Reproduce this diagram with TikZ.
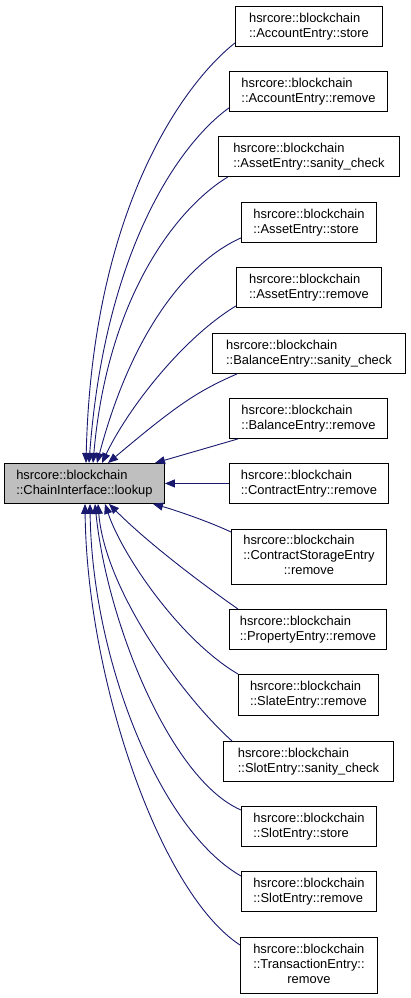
\documentclass[tikz,border=0pt]{standalone}
\usepackage{fontspec}
\setmainfont{Liberation Sans}
\usetikzlibrary{arrows.meta}
\definecolor{edgeblue}{HTML}{191970}
\definecolor{maingray}{HTML}{BFBFBF}
\begin{document}
\begin{tikzpicture}[x=1pt,y=-1pt,
  box/.style={draw=black, line width=0.9pt, fill=white, rectangle, inner sep=0pt, anchor=north west,
    align=left, font=\fontsize{12.9}{15}\selectfont, minimum height=40pt},
  mainbox/.style={box, fill=maingray},
  edge/.style={draw=edgeblue, line width=0.9pt, -{Triangle[length=10pt,width=8pt]}}]
\useasboundingbox[fill=white] (0,0) rectangle (411,998);

\node[mainbox, minimum width=160pt] (main) at (4,463) {hsrcore::blockchain\\::ChainInterface::lookup};

\node[box, minimum width=147pt] (acs) at (235,6) {hsrcore::blockchain\\::AccountEntry::store};
\node[box, minimum width=158pt] (acr) at (229,71) {hsrcore::blockchain\\::AccountEntry::remove};
\node[box, minimum width=181pt] (asc) at (218,136) {hsrcore::blockchain\\::AssetEntry::sanity\_check};
\node[box, minimum width=135pt] (ast) at (241,202) {hsrcore::blockchain\\::AssetEntry::store};
\node[box, minimum width=145pt] (asr) at (236,267) {hsrcore::blockchain\\::AssetEntry::remove};
\node[box, minimum width=193pt] (bsc) at (212,333) {hsrcore::blockchain\\::BalanceEntry::sanity\_check};
\node[box, minimum width=158pt] (bar) at (229,398) {hsrcore::blockchain\\::BalanceEntry::remove};
\node[box, minimum width=159pt] (cer) at (229,463) {hsrcore::blockchain\\::ContractEntry::remove};
\node[box, minimum width=155pt, minimum height=55pt] (csr) at (231,529)
  {\begin{tabular}{@{}l@{}}hsrcore::blockchain\\::ContractStorageEntry\\\multicolumn{1}{@{}c@{}}{::remove}\end{tabular}};
\node[box, minimum width=157pt] (per) at (229,609) {hsrcore::blockchain\\::PropertyEntry::remove};
\node[box, minimum width=140pt, minimum height=41pt] (ser) at (238,674) {hsrcore::blockchain\\::SlateEntry::remove};
\node[box, minimum width=170pt] (ssc) at (223,741) {hsrcore::blockchain\\::SlotEntry::sanity\_check};
\node[box, minimum width=135pt] (sst) at (241,806) {hsrcore::blockchain\\::SlotEntry::store};
\node[box, minimum width=135pt] (ssr) at (241,871) {hsrcore::blockchain\\::SlotEntry::remove};
\node[box, minimum width=137pt, minimum height=56pt] (ter) at (240,937)
  {\begin{tabular}{@{}l@{}}hsrcore::blockchain\\::TransactionEntry::\\\multicolumn{1}{@{}c@{}}{remove}\end{tabular}};

% edges above
\draw[edge] ([yshift=4pt]acs.south west) .. controls (183,84) and (92,210) .. ([xshift=82pt]main.north west);
\draw[edge] ([yshift=4pt]acr.south west) .. controls (180,143) and (105,249) .. ([xshift=85pt]main.north west);
\draw[edge] ([xshift=10pt]asc.south west) .. controls (181,205) and (108,291) .. ([xshift=89pt]main.north west);
\draw[edge] ([yshift=5pt]ast.south west) .. controls (191,260) and (133,327) .. ([xshift=93pt]main.north west);
\draw[edge] ([yshift=2pt]asr.south west) .. controls (180,340) and (126,412) .. ([xshift=98pt]main.north west);
\draw[edge] ([xshift=25pt]bsc.south west) .. controls (198,391) and (178,404) .. ([xshift=104pt]main.north west);
\draw[edge] ([xshift=9pt]bar.south west) -- ([xshift=151pt]main.north west);
\draw[edge] (cer.west) -- (main.east);
% edges below
\draw[edge] ([yshift=-3pt]csr.north west) .. controls (210,522) and (175,510) .. ([xshift=149pt]main.south west);
\draw[edge] ([xshift=9pt]per.north west) .. controls (205,586) and (150,545) .. ([xshift=105pt]main.south west);
\draw[edge] (ser.north west) .. controls (180,640) and (122,555) .. ([xshift=101pt]main.south west);
\draw[edge] ([xshift=9pt]ssc.north west) .. controls (182,696) and (105,590) .. ([xshift=94pt]main.south west);
\draw[edge] ([yshift=-4pt]sst.north west) .. controls (171,780) and (107,623) .. ([xshift=91pt]main.south west);
\draw[edge] ([yshift=-5pt]ssr.north west) .. controls (160,830) and (92,660) .. ([xshift=86pt]main.south west);
\draw[edge] ([yshift=-8pt]ter.north west) .. controls (160,893) and (87,680) .. ([xshift=81pt]main.south west);
\end{tikzpicture}
\end{document}
